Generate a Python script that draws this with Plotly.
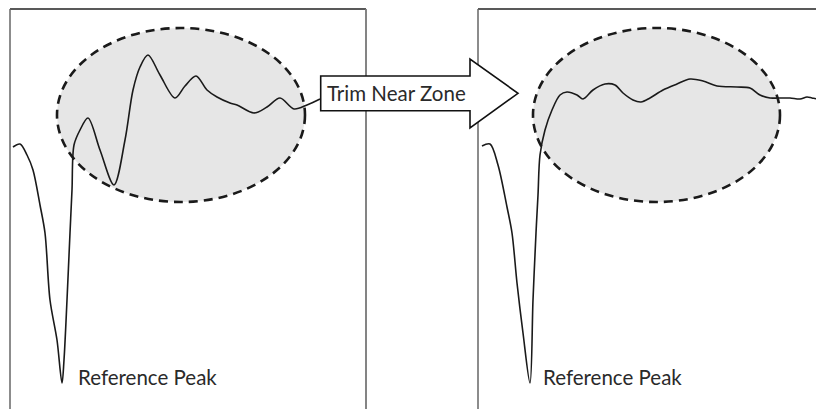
import plotly.graph_objects as go

# trace before trimming (left panel)
before_x = [13, 20, 27, 33, 40, 45, 50, 57, 62, 64, 67, 70, 72, 74, 80, 88, 100, 114,
            125, 133, 140, 148, 160, 175, 185, 196, 207, 217, 230, 237, 254, 267,
            280, 294, 307, 320]
before_y = [147, 144, 155, 170, 205, 233, 300, 340, 383, 360, 300, 233, 190, 145, 130,
            118, 150, 185, 140, 90, 67, 55, 75, 98, 86, 76, 90, 97, 103, 105, 113,
            107, 98, 109, 105, 99]

# trace after trimming (right panel)
after_x = [482, 490, 498, 507, 512, 517, 523, 530, 533, 536, 538, 540, 545, 552, 560,
           567, 577, 583, 593, 605, 615, 623, 633, 641, 650, 663, 677, 690, 703, 717,
           737, 750, 760, 770, 778, 790, 800, 807, 812, 818, 824]
after_y = [146, 144, 165, 207, 233, 283, 333, 383, 300, 233, 195, 155, 130, 110, 95,
           92, 95, 99, 90, 84, 85, 93, 100, 102, 98, 90, 84, 79, 81, 86, 87, 88, 95,
           98, 98, 98, 99, 97, 98, 99, 98]

peak_label = "Reference Peak"
arrow_label = "Trim Near Zone"

W, H = 824, 409
OFF = 8  # page body margin in the browser
FONT = "Lato"

fig = go.Figure()
for xs, ys in [(before_x, before_y), (after_x, after_y)]:
    fig.add_trace(go.Scatter(x=xs, y=ys, mode="lines",
                             line=dict(color="#1a1a1a", width=1.6, shape="spline", smoothing=0.9),
                             hoverinfo="skip", showlegend=False))

# zone ellipses
for cx, rx in [(181, 124), (656.5, 123.5)]:
    fig.add_shape(type="circle", x0=cx - rx, x1=cx + rx, y0=28, y1=202,
                  fillcolor="#e6e6e6", line=dict(color="#1a1a1a", width=2.6, dash="9px,6px"),
                  layer="below")

# panel frames
top = OFF + 1
for x0, x1 in [(10, 366), (478, 840)]:
    fig.add_shape(type="line", x0=x0, x1=x1, y0=top, y1=top, line=dict(color="#222", width=1.5), layer="below")
    fig.add_shape(type="line", x0=x0, x1=x0, y0=top, y1=H + 20, line=dict(color="#666", width=1.5), layer="below")
    fig.add_shape(type="line", x0=x1, x1=x1, y0=top, y1=H + 20, line=dict(color="#777", width=1.8), layer="below")

# block arrow
fig.add_shape(type="path",
              path="M 320.7 76 L 470 76 L 470 59 L 518 93.3 L 470 128 L 470 110.7 L 320.7 110.7 Z",
              fillcolor="white", line=dict(color="#111", width=1.6), layer="above")
fig.add_annotation(x=325, y=93, text=arrow_label, showarrow=False, xanchor="left", yanchor="middle",
                   font=dict(family=FONT, size=20.5, color="#2a2a2a"))

for px in [76, 541]:
    fig.add_annotation(x=px, y=377, text=peak_label, showarrow=False, xanchor="left", yanchor="middle",
                       font=dict(family=FONT, size=20.5, color="#2a2a2a"))

fig.update_xaxes(range=[OFF, W + OFF], visible=False, fixedrange=True)
fig.update_yaxes(range=[H + OFF, OFF], visible=False, fixedrange=True)
fig.update_layout(width=W, height=H, margin=dict(l=0, r=0, t=0, b=0),
                  paper_bgcolor="white", plot_bgcolor="white")

fig.write_html("out.html")
